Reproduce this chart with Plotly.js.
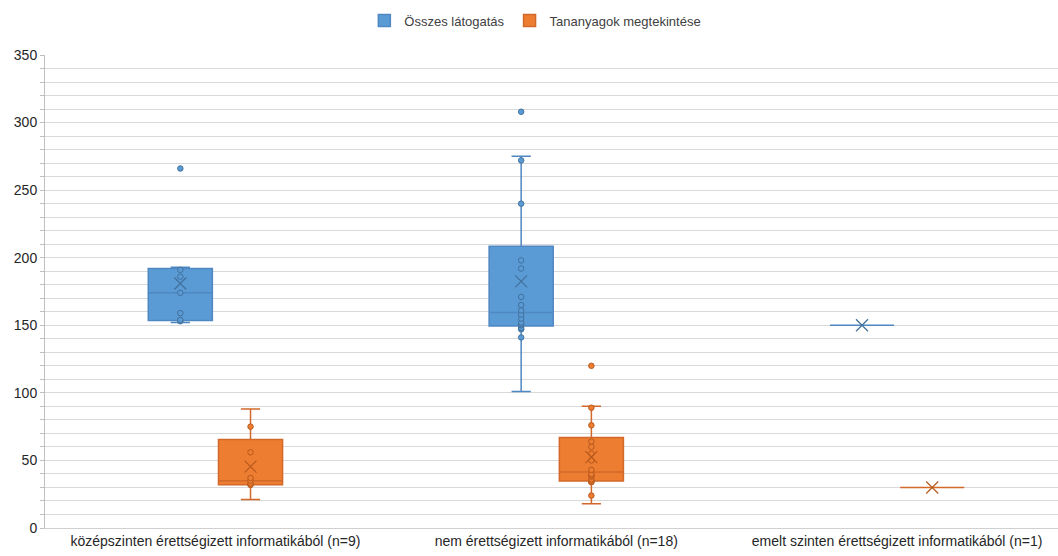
<!DOCTYPE html>
<html>
<head>
<meta charset="utf-8">
<script src="https://cdn.plot.ly/plotly-3.0.1.min.js"></script>
<style>html,body{margin:0;padding:0;background:#fff;}#chart{width:1058px;height:556px;}</style>
</head>
<body>
<div id="chart"></div>
<script>
// Categories (x axis)
const categories = [
  'középszinten érettségizett informatikából (n=9)',
  'nem érettségizett informatikából (n=18)',
  'emelt szinten érettségizett informatikából (n=1)'
];
const seriesNames = ['Összes látogatás', 'Tananyagok megtekintése'];

// Összes látogatás (raw values per group)
const osszesKozep = [152, 153, 154, 159, 174, 186, 191, 193, 266];
const osszesNem = [101, 141, 147, 148, 150, 151, 152, 155, 158, 161, 165, 171, 192, 198, 240, 272, 275, 308];
const osszesEmelt = [150];

// Tananyagok megtekintése
const tananyagKozep = [21, 32, 32, 33, 35, 37, 56, 75, 88];
const tananyagNem = [18, 24, 34, 34, 35, 36, 38, 39, 40, 43, 50, 55, 60, 64, 76, 89, 90, 120];
const tananyagEmelt = [30];

const yTickVals = [0, 50, 100, 150, 200, 250, 300, 350];

const seriesData = [
  [osszesKozep, osszesNem, osszesEmelt],
  [tananyagKozep, tananyagNem, tananyagEmelt]
];
const fills = ['#5B9BD5', '#ED7D31'];
const lines = ['#4F87C2', '#D2692A'];
const marks = ['#41719C', '#B8591D'];
const offsets = [-0.103, 0.103];

// Excel-like (QUARTILE.EXC) statistics
function qexc(s, p) {
  const n = s.length;
  if (n === 1) return s[0];
  let pos = p * (n + 1);
  if (pos < 1) pos = 1;
  if (pos > n) pos = n;
  const lo = Math.floor(pos), fr = pos - lo;
  if (lo >= n) return s[n - 1];
  return s[lo - 1] + fr * (s[lo] - s[lo - 1]);
}
function median(s) {
  const n = s.length;
  return n % 2 ? s[(n - 1) / 2] : (s[n / 2 - 1] + s[n / 2]) / 2;
}
function stats(vals) {
  const s = vals.slice().sort((a, b) => a - b);
  const q1 = qexc(s, 0.25), q3 = qexc(s, 0.75), med = median(s);
  const iqr = q3 - q1;
  const lf = Math.min(...s.filter(v => v >= q1 - 1.5 * iqr));
  const uf = Math.max(...s.filter(v => v <= q3 + 1.5 * iqr));
  const mean = s.reduce((a, b) => a + b, 0) / s.length;
  return {q1, q3, med, lf, uf, mean};
}

const traces = [];
seriesData.forEach((groups, si) => {
  const xs = groups.map((g, gi) => gi + offsets[si]);
  const st = groups.map(stats);
  traces.push({
    type: 'box',
    name: seriesNames[si],
    x: xs,
    q1: st.map(d => d.q1),
    median: st.map(d => d.med),
    q3: st.map(d => d.q3),
    lowerfence: st.map(d => d.lf),
    upperfence: st.map(d => d.uf),
    boxpoints: false,
    width: 0.188,
    whiskerwidth: 0.3,
    fillcolor: fills[si],
    line: {color: lines[si], width: 1.5},
    hoverinfo: 'y',
    showlegend: true
  });
  // individual data points (the whisker-end values are shown by the whisker caps)
  const px = [], py = [];
  groups.forEach((g, gi) => {
    if (g.length < 2) return;
    const s = g.slice().sort((a, b) => a - b);
    const d = st[gi];
    let dropLo = true, dropHi = true;
    s.forEach(v => {
      if (dropLo && v === d.lf) { dropLo = false; return; }
      if (dropHi && v === d.uf) { dropHi = false; return; }
      px.push(gi + offsets[si]); py.push(v);
    });
  });
  traces.push({
    type: 'scatter', mode: 'markers', x: px, y: py, showlegend: false,
    marker: {symbol: 'circle', size: 5.5, color: fills[si], line: {color: marks[si], width: 1}},
    hoverinfo: 'y'
  });
  // mean markers
  traces.push({
    type: 'scatter', mode: 'markers', x: xs, y: st.map(d => d.mean), showlegend: false,
    marker: {symbol: 'x-thin-open', size: 12, color: marks[si], line: {color: marks[si], width: 1.2}},
    hoverinfo: 'y'
  });
});

const layout = {
  width: 1058, height: 556,
  margin: {l: 45, r: 0, t: 55, b: 28},
  paper_bgcolor: '#ffffff', plot_bgcolor: '#ffffff',
  font: {family: '"Liberation Sans", Arial, sans-serif', size: 13, color: '#404040'},
  showlegend: true,
  legend: {
    orientation: 'h', xref: 'container', yref: 'container',
    x: 0.506, xanchor: 'center', y: 0.963, yanchor: 'middle',
    font: {size: 13, color: '#404040'}, itemwidth: 30, traceorder: 'normal'
  },
  xaxis: {
    type: 'linear', range: [-0.5, 2.472], tickvals: [0, 1, 2], ticktext: categories,
    showgrid: false, zeroline: false, showline: true, linecolor: '#d0d0d0', linewidth: 1,
    ticks: '', tickfont: {size: 14, color: '#262626'}, fixedrange: true
  },
  yaxis: {
    range: [0, 350], tickvals: yTickVals, showgrid: true, gridcolor: '#d9d9d9', gridwidth: 1,
    minor: {dtick: 10, showgrid: true, gridcolor: '#d9d9d9', gridwidth: 1, ticks: 'outside', ticklen: 4, tickcolor: '#bfbfbf'},
    ticks: 'outside', ticklen: 4, tickcolor: '#bfbfbf',
    showline: true, linecolor: '#bfbfbf', linewidth: 1, zeroline: false,
    tickfont: {size: 14, color: '#262626'}, fixedrange: true
  }
};

Plotly.newPlot('chart', traces, layout, {displayModeBar: false, staticPlot: true});
</script>
</body>
</html>
